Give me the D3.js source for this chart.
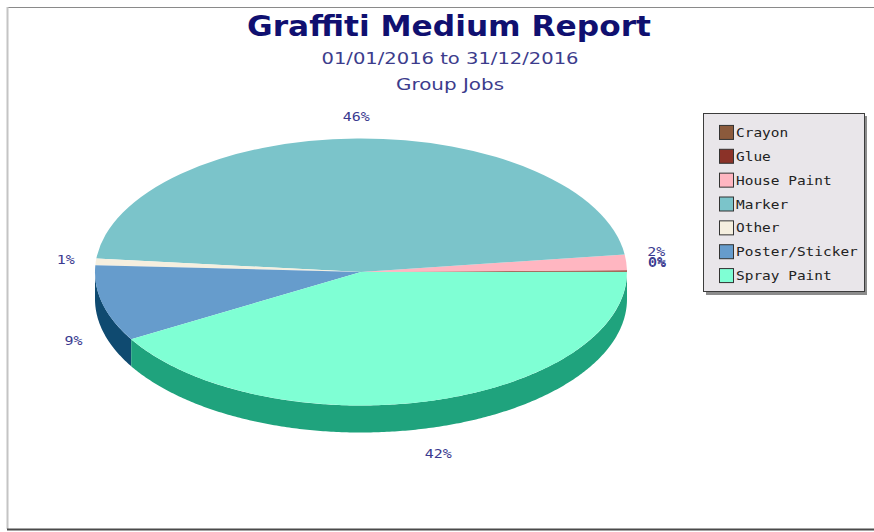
<!DOCTYPE html>
<html>
<head>
<meta charset="utf-8">
<script src="https://cdnjs.cloudflare.com/ajax/libs/d3/7.8.5/d3.min.js"></script>
<style>
html,body{margin:0;padding:0;background:#fff}
svg{display:block}
</style>
</head>
<body>
<svg id="chart" width="874" height="532"></svg>
<script>
// Share of jobs per graffiti medium, in percent
const categories = ["Crayon","Glue","House Paint","Marker","Other","Poster/Sticker","Spray Paint"];
const shares = [0.1,0.1,1.9,46.3,0.8,9.2,41.6];
const topColors = ["#8b5a3c","#8b3228","#ffb6c1","#7bc4ca","#f5efdf","#669ccc","#7fffd4"];
const sideColors = ["#5f3d28","#5e211b","#b07d85","#508a8f","#a89f8d","#0f4a70","#1fa37d"];
const titleText = "Graffiti Medium Report";
const subtitleLines = ["01/01/2016 to 31/12/2016","Group Jobs"];
const subtitleWidths = [257,108];

const svg = d3.select("#chart");
const cx = 361, cy = 272, rx = 266, ry = 133.5, depth = 27;

// Outer frame of the plot
const frame = svg.append("g").attr("fill","none");
frame.append("line").attr("x1",7).attr("x2",874).attr("y1",7.5).attr("y2",7.5).attr("stroke","#8a8a8a");
frame.append("line").attr("x1",7.5).attr("x2",7.5).attr("y1",7).attr("y2",529).attr("stroke","#c4c4c4").attr("stroke-width",2);
frame.append("line").attr("x1",7).attr("x2",874).attr("y1",529.5).attr("y2",529.5).attr("stroke","#4a4a4a").attr("stroke-width",2);

// Titles, set slightly wide
svg.append("text").attr("x",449).attr("y",36).attr("text-anchor","middle")
  .attr("font-family","'DejaVu Sans',sans-serif").attr("font-weight","bold").attr("font-size",29)
  .attr("textLength",404).attr("lengthAdjust","spacingAndGlyphs")
  .attr("fill","#101070").text(titleText);
svg.selectAll("text.sub").data(subtitleLines).join("text").attr("class","sub")
  .attr("x",450).attr("y",(d,i)=>64+i*26).attr("text-anchor","middle")
  .attr("font-family","'DejaVu Sans',sans-serif").attr("font-size",16)
  .attr("textLength",(d,i)=>subtitleWidths[i]).attr("lengthAdjust","spacingAndGlyphs")
  .attr("fill","#3c3c8c").text(d=>d);

// Slices run counter-clockwise from three o'clock
const angle = d3.scaleLinear().domain([0,d3.sum(shares)]).range([0,2*Math.PI]);
const pie = d3.pie().sort(null).value(d=>d.value)
  .startAngle(angle(0)).endAngle(angle(d3.sum(shares)));
const slices = pie(categories.map((name,i)=>({name,value:shares[i],i})));

const px = a => cx + rx*Math.cos(a);
const py = a => cy - ry*Math.sin(a);

// Front wall: only the part of a slice that lies in the lower half of the ellipse
const wall = svg.append("g");
const wallPath = (a0,a1) => {
  const lo = Math.max(a0,Math.PI), hi = Math.min(a1,2*Math.PI);
  if (hi <= lo) return null;
  const steps = d3.range(lo,hi,0.01).concat([hi]);
  const p = d3.path();
  steps.forEach((a,k)=> k ? p.lineTo(px(a),py(a)) : p.moveTo(px(a),py(a)));
  steps.slice().reverse().forEach(a=>p.lineTo(px(a),py(a)+depth));
  p.closePath();
  return p.toString();
};
wall.selectAll("path").data(slices.filter(s=>wallPath(s.startAngle,s.endAngle))).join("path")
  .attr("d",s=>wallPath(s.startAngle,s.endAngle))
  .attr("fill",s=>sideColors[s.data.i]);

// Top face of the pie, a flattened circular pie
const arc = d3.arc().innerRadius(0).outerRadius(rx);
svg.append("g").attr("transform",`translate(${cx},${cy}) scale(1,${ry/rx})`)
  .selectAll("path").data(slices).join("path")
  .attr("d",s=>arc({startAngle:Math.PI/2-s.endAngle,endAngle:Math.PI/2-s.startAngle}))
  .attr("fill",s=>topColors[s.data.i]);

// Percent labels outside the rim, in a wide monospace setting
svg.append("g").selectAll("text").data(slices).join("text")
  .each(function(s){
    const m = (s.startAngle+s.endAngle)/2, c = Math.cos(m), n = Math.sin(m);
    const y = cy - (ry+22)*n + (n<0 ? 32 : 0) + (c>0 && n>=0 && n<0.5 ? -9 : 0);
    const t = Math.round(s.data.value)+"%";
    d3.select(this).attr("x",cx+(rx+30)*c).attr("y",y+4)
      .attr("textLength",t.length*9).attr("lengthAdjust","spacingAndGlyphs").text(t);
  })
  .attr("text-anchor","middle").attr("font-family","'DejaVu Sans Mono',monospace").attr("font-size",12)
  .attr("fill","#3a3a90");

// Legend box with drop shadow
const legendY = d3.scaleBand().domain(categories).range([120,287]);
const legend = svg.append("g");
legend.append("rect").attr("x",706).attr("y",116).attr("width",161).attr("height",179).attr("fill","#8c8c8c");
legend.append("rect").attr("x",703.5).attr("y",113.5).attr("width",161).attr("height",178)
  .attr("fill","#e9e6ea").attr("stroke","#3c3c3c");
const rows = legend.selectAll("g").data(categories).join("g")
  .attr("transform",d=>`translate(719,${legendY(d)+legendY.bandwidth()/2})`);
rows.append("rect").attr("x",0.5).attr("y",-6.5).attr("width",14).attr("height",14)
  .attr("fill",(d,i)=>topColors[i]).attr("stroke","#333");
rows.append("text").attr("x",17).attr("y",5).attr("font-family","'DejaVu Sans Mono',monospace")
  .attr("font-size",13).attr("fill","#222")
  .attr("textLength",d=>d.length*8.7).attr("lengthAdjust","spacingAndGlyphs").text(d=>d);
</script>
</body>
</html>
